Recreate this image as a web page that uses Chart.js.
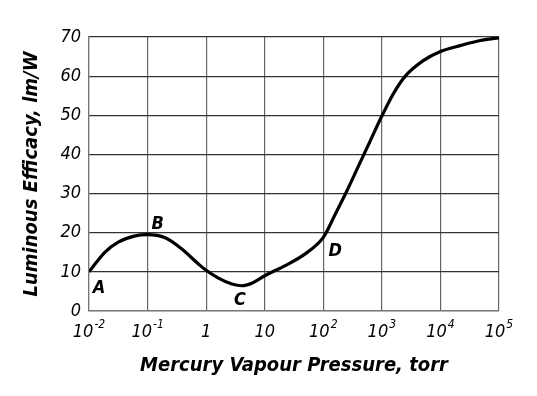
<!DOCTYPE html>
<html>
<head>
<meta charset="utf-8">
<script src="https://cdn.jsdelivr.net/npm/chart.js@4"></script>
<style>
html,body{margin:0;padding:0;background:#fff;}
#wrap{width:537px;height:396px;}
</style>
</head>
<body>
<div id="wrap"><canvas id="c" width="537" height="396"></canvas></div>
<script>
// Mercury vapour pressure (torr) and luminous efficacy (lm/W)
const pressure = [0.01, 0.0186, 0.0316, 0.0617, 0.1, 0.2, 0.38, 0.74, 1, 1.62, 2.75, 4.07, 6.03, 10, 22.4, 49, 100, 158.5, 251.2, 398.1, 631, 1000, 1585, 2512, 5012, 10000, 21878, 47863, 100000];
const efficacy = [10, 15.0, 17.6, 19.2, 19.5, 18.7, 15.9, 12.0, 10.4, 8.4, 6.9, 6.45, 7.1, 9.0, 11.6, 14.6, 18.8, 24.6, 30.6, 37.0, 43.4, 49.8, 55.6, 60.0, 63.9, 66.3, 67.8, 69.1, 69.8];
const xTickValues = [0.01, 0.1, 1, 10, 100, 1000, 10000, 100000];
const xTickBase = ['10', '10', '1', '10', '10', '10', '10', '10'];
const xTickExp = ['-2', '-1', '', '', '2', '3', '4', '5'];
const yTickValues = [0, 10, 20, 30, 40, 50, 60, 70];
const pointNames = ['A', 'B', 'C', 'D'];
const pointX = [0.01, 0.1, 4.07, 100];
const pointY = [10, 19.5, 6.45, 18.4];
const xTitle = 'Mercury Vapour Pressure, torr';
const yTitle = 'Luminous Efficacy, lm/W';

const FONT = '"DejaVu Sans Condensed", "Liberation Sans Narrow", "Liberation Sans", sans-serif';

const labelOffsets = {A: [10, 16], B: [10, -10], C: [-2, 15], D: [12, 12]};

const pointLabels = {
  id: 'pointLabels',
  afterDatasetsDraw(chart) {
    const ctx = chart.ctx, xs = chart.scales.x, ys = chart.scales.y;
    ctx.save();
    ctx.font = 'italic bold 18px ' + FONT;
    ctx.fillStyle = '#000';
    ctx.textAlign = 'center';
    ctx.textBaseline = 'middle';
    pointNames.forEach((n, i) => {
      const o = labelOffsets[n];
      ctx.fillText(n, xs.getPixelForValue(pointX[i]) + o[0], ys.getPixelForValue(pointY[i]) + o[1]);
    });
    ctx.restore();
  }
};

const xTickText = {
  id: 'xTickText',
  afterDraw(chart) {
    const ctx = chart.ctx, xs = chart.scales.x;
    const baseY = chart.chartArea.bottom + 26;
    ctx.save();
    ctx.fillStyle = '#000';
    ctx.textBaseline = 'alphabetic';
    ctx.textAlign = 'left';
    xTickValues.forEach((v, i) => {
      const px = xs.getPixelForValue(v);
      const baseFont = 'italic 18px ' + FONT;
      const expFont = 'italic 12px ' + FONT;
      ctx.font = baseFont;
      const bw = ctx.measureText(xTickBase[i]).width;
      ctx.font = expFont;
      const ew = xTickExp[i] ? ctx.measureText(xTickExp[i]).width + 1 : 0;
      const start = px - (bw + ew) / 2;
      ctx.font = baseFont;
      ctx.fillText(xTickBase[i], start, baseY);
      if (xTickExp[i]) {
        ctx.font = expFont;
        ctx.fillText(xTickExp[i], start + bw + 1, baseY - 9);
      }
    });
    ctx.restore();
  }
};

new Chart(document.getElementById('c'), {
  type: 'line',
  data: {
    datasets: [{
      data: pressure.map((p, i) => ({x: p, y: efficacy[i]})),
      borderColor: '#000',
      borderWidth: 3.2,
      pointRadius: 0,
      fill: false,
      cubicInterpolationMode: 'monotone'
    }]
  },
  options: {
    responsive: false,
    animation: false,
    layout: {padding: {top: 37, right: 38, left: 16, bottom: 0}},
    plugins: {legend: {display: false}, tooltip: {enabled: false}},
    scales: {
      x: {
        type: 'logarithmic',
        min: 0.01, max: 100000,
        afterBuildTicks: s => { s.ticks = xTickValues.map(v => ({value: v})); },
        afterFit: s => { s.height = 85; },
        grid: {color: '#666', lineWidth: 1.2, drawTicks: false},
        border: {color: '#777', width: 1.2},
        ticks: {
          autoSkip: false, maxRotation: 0, padding: 6,
          color: '#000',
          font: {family: FONT, size: 18, style: 'italic'},
          callback: () => ''
        },
        title: {
          display: true, text: xTitle, color: '#000',
          font: {family: FONT, size: 20, weight: 'bold', style: 'italic'},
          padding: {top: 0, bottom: 18}
        }
      },
      y: {
        min: 0, max: 70,
        afterBuildTicks: s => { s.ticks = yTickValues.map(v => ({value: v})); },
        afterFit: s => { s.width = 73; },
        grid: {color: '#333', lineWidth: 1.2, drawTicks: false},
        border: {color: '#777', width: 1.2},
        ticks: {
          autoSkip: false, padding: 8,
          color: '#000',
          font: {family: FONT, size: 18, style: 'italic'}
        },
        title: {
          display: true, text: yTitle, color: '#000',
          font: {family: FONT, size: 20, weight: 'bold', style: 'italic'},
          padding: {bottom: 8}
        }
      }
    }
  },
  plugins: [pointLabels, xTickText]
});
</script>
</body>
</html>
